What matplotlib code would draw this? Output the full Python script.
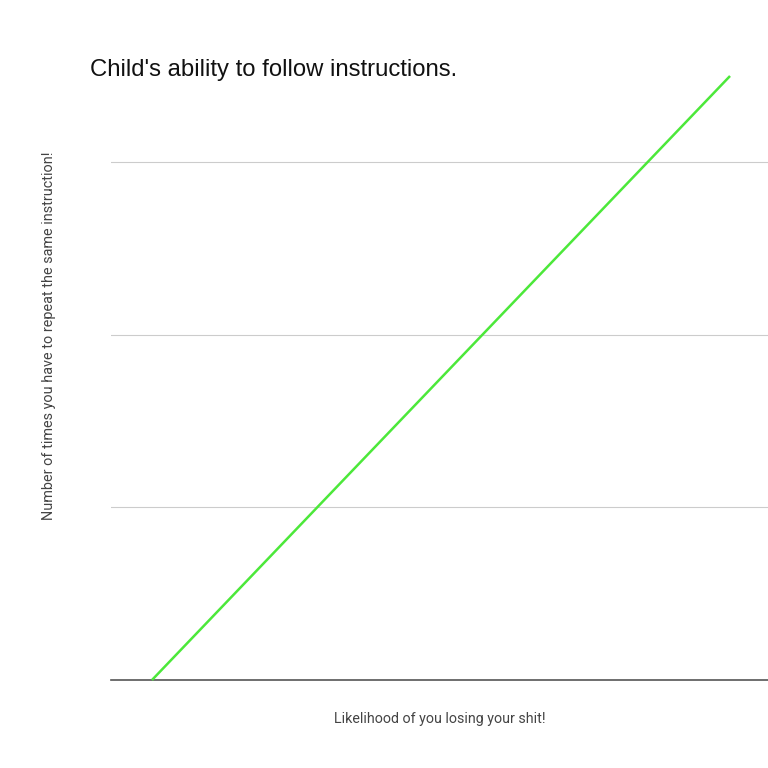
import matplotlib.pyplot as plt

# Line endpoints (x in arbitrary units, y in gridline units)
x_vals = [0, 1]
y_vals = [0, 3.5]
grid_levels = [1, 2, 3]

title = "Child's ability to follow instructions."
x_label = "Likelihood of you losing your shit!"
y_label = "Number of times you have to repeat the same instruction!"

fig = plt.figure(figsize=(7.68, 7.68), dpi=100)
ax = fig.add_axes([111 / 768, 88 / 768, 1 - 111 / 768, (680 - 76) / 768])

ax.plot(x_vals, y_vals, color="#4ce83a", linewidth=1.8, solid_capstyle="butt",
        clip_on=False, zorder=3)

ax.set_xlim(-0.0709, 1.0657)
ax.set_ylim(0, 3.5)

# Gridlines
for g in grid_levels:
    ax.axhline(g, color="#cccccc", linewidth=0.8, zorder=0)
ax.axhline(0, color="#555555", linewidth=1.2, zorder=2, clip_on=False)

ax.set_xticks([])
ax.set_yticks([])
for spine in ax.spines.values():
    spine.set_visible(False)

fig.text(90 / 768, 1 - 70 / 768, title, fontsize=17.2, family="Liberation Sans",
         color="#111111", va="center", ha="left")
fig.text(440 / 768, 1 - 719 / 768, x_label, fontsize=10.3, family="Roboto",
         color="#444444", va="center", ha="center")
fig.text(49 / 768, 1 - 336 / 768, y_label, fontsize=10.4, family="Roboto",
         color="#444444", va="center", ha="center", rotation=90)

fig.savefig("out.png", dpi=100)
